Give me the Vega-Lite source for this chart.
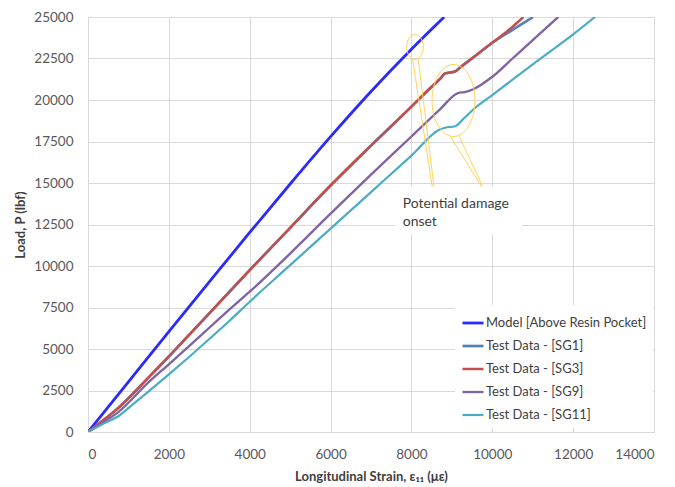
{
  "$schema": "https://vega.github.io/schema/vega-lite/v6.json",
  "width": 566,
  "height": 415,
  "autosize": {"type": "none"},
  "padding": {"left": 88, "top": 17, "right": 21, "bottom": 55},
  "background": "white",
  "config": {
    "font": "Lato",
    "view": {"stroke": "#d9d9d9", "strokeWidth": 1},
    "axis": {
      "domain": false, "ticks": false, "grid": true,
      "gridColor": "#d9d9d9", "gridWidth": 1,
      "labelColor": "#595959", "labelFont": "Lato", "labelFontSize": 13.5,
      "titleColor": "#404040", "titleFont": "Lato", "titleFontSize": 13, "titleFontWeight": "bold"
    }
  },
  "datasets": {
    "box": [{"strain": 7593, "strain2": 10735, "load": 11898, "load2": 14789}],
    "note": [{"strain": 7784, "load": 13464, "label": "Potential damage\nonset"}],
    "call1": [{"strain": 8212, "load": 19367}],
    "call2": [{"strain": 9127, "load": 18464}],
    "curves": [
      {"series": "Model [Above Resin Pocket]", "strain": 0, "load": 0},
      {"series": "Model [Above Resin Pocket]", "strain": 1000, "load": 3020},
      {"series": "Model [Above Resin Pocket]", "strain": 2000, "load": 6040},
      {"series": "Model [Above Resin Pocket]", "strain": 3000, "load": 9040},
      {"series": "Model [Above Resin Pocket]", "strain": 4000, "load": 12020},
      {"series": "Model [Above Resin Pocket]", "strain": 5000, "load": 14940},
      {"series": "Model [Above Resin Pocket]", "strain": 6000, "load": 17790},
      {"series": "Model [Above Resin Pocket]", "strain": 7000, "load": 20510},
      {"series": "Model [Above Resin Pocket]", "strain": 8000, "load": 23060},
      {"series": "Model [Above Resin Pocket]", "strain": 8810, "load": 25000},

      {"series": "Test Data - [SG1]", "strain": 0, "load": 0},
      {"series": "Test Data - [SG1]", "strain": 300, "load": 560},
      {"series": "Test Data - [SG1]", "strain": 750, "load": 1450},
      {"series": "Test Data - [SG1]", "strain": 1500, "load": 3290},
      {"series": "Test Data - [SG1]", "strain": 2000, "load": 4550},
      {"series": "Test Data - [SG1]", "strain": 2500, "load": 5850},
      {"series": "Test Data - [SG1]", "strain": 3000, "load": 7150},
      {"series": "Test Data - [SG1]", "strain": 3500, "load": 8450},
      {"series": "Test Data - [SG1]", "strain": 4000, "load": 9750},
      {"series": "Test Data - [SG1]", "strain": 5000, "load": 12300},
      {"series": "Test Data - [SG1]", "strain": 6000, "load": 14850},
      {"series": "Test Data - [SG1]", "strain": 7000, "load": 17250},
      {"series": "Test Data - [SG1]", "strain": 8000, "load": 19600},
      {"series": "Test Data - [SG1]", "strain": 8500, "load": 20800},
      {"series": "Test Data - [SG1]", "strain": 8720, "load": 21300},
      {"series": "Test Data - [SG1]", "strain": 8830, "load": 21600},
      {"series": "Test Data - [SG1]", "strain": 9080, "load": 21720},
      {"series": "Test Data - [SG1]", "strain": 9200, "load": 21950},
      {"series": "Test Data - [SG1]", "strain": 9600, "load": 22700},
      {"series": "Test Data - [SG1]", "strain": 10000, "load": 23450},
      {"series": "Test Data - [SG1]", "strain": 10500, "load": 24220},
      {"series": "Test Data - [SG1]", "strain": 11010, "load": 25000},

      {"series": "Test Data - [SG3]", "strain": 0, "load": 0},
      {"series": "Test Data - [SG3]", "strain": 300, "load": 560},
      {"series": "Test Data - [SG3]", "strain": 750, "load": 1450},
      {"series": "Test Data - [SG3]", "strain": 1500, "load": 3290},
      {"series": "Test Data - [SG3]", "strain": 2000, "load": 4550},
      {"series": "Test Data - [SG3]", "strain": 2500, "load": 5850},
      {"series": "Test Data - [SG3]", "strain": 3000, "load": 7150},
      {"series": "Test Data - [SG3]", "strain": 3500, "load": 8450},
      {"series": "Test Data - [SG3]", "strain": 4000, "load": 9750},
      {"series": "Test Data - [SG3]", "strain": 5000, "load": 12300},
      {"series": "Test Data - [SG3]", "strain": 6000, "load": 14850},
      {"series": "Test Data - [SG3]", "strain": 7000, "load": 17250},
      {"series": "Test Data - [SG3]", "strain": 8000, "load": 19600},
      {"series": "Test Data - [SG3]", "strain": 8500, "load": 20800},
      {"series": "Test Data - [SG3]", "strain": 8720, "load": 21300},
      {"series": "Test Data - [SG3]", "strain": 8830, "load": 21600},
      {"series": "Test Data - [SG3]", "strain": 9080, "load": 21720},
      {"series": "Test Data - [SG3]", "strain": 9200, "load": 21950},
      {"series": "Test Data - [SG3]", "strain": 9600, "load": 22700},
      {"series": "Test Data - [SG3]", "strain": 10000, "load": 23450},
      {"series": "Test Data - [SG3]", "strain": 10400, "load": 24200},
      {"series": "Test Data - [SG3]", "strain": 10770, "load": 25000},

      {"series": "Test Data - [SG9]", "strain": 0, "load": 0},
      {"series": "Test Data - [SG9]", "strain": 300, "load": 470},
      {"series": "Test Data - [SG9]", "strain": 750, "load": 1200},
      {"series": "Test Data - [SG9]", "strain": 1500, "load": 3000},
      {"series": "Test Data - [SG9]", "strain": 2000, "load": 4080},
      {"series": "Test Data - [SG9]", "strain": 2500, "load": 5180},
      {"series": "Test Data - [SG9]", "strain": 3000, "load": 6280},
      {"series": "Test Data - [SG9]", "strain": 3500, "load": 7380},
      {"series": "Test Data - [SG9]", "strain": 4000, "load": 8450},
      {"series": "Test Data - [SG9]", "strain": 5000, "load": 10750},
      {"series": "Test Data - [SG9]", "strain": 6000, "load": 13150},
      {"series": "Test Data - [SG9]", "strain": 7000, "load": 15500},
      {"series": "Test Data - [SG9]", "strain": 8000, "load": 17800},
      {"series": "Test Data - [SG9]", "strain": 8700, "load": 19420},
      {"series": "Test Data - [SG9]", "strain": 9150, "load": 20420},
      {"series": "Test Data - [SG9]", "strain": 9320, "load": 20480},
      {"series": "Test Data - [SG9]", "strain": 9530, "load": 20650},
      {"series": "Test Data - [SG9]", "strain": 10000, "load": 21400},
      {"series": "Test Data - [SG9]", "strain": 10500, "load": 22500},
      {"series": "Test Data - [SG9]", "strain": 11000, "load": 23600},
      {"series": "Test Data - [SG9]", "strain": 11630, "load": 25000},

      {"series": "Test Data - [SG11]", "strain": 0, "load": 0},
      {"series": "Test Data - [SG11]", "strain": 400, "load": 520},
      {"series": "Test Data - [SG11]", "strain": 750, "load": 950},
      {"series": "Test Data - [SG11]", "strain": 1100, "load": 1650},
      {"series": "Test Data - [SG11]", "strain": 1500, "load": 2450},
      {"series": "Test Data - [SG11]", "strain": 2000, "load": 3470},
      {"series": "Test Data - [SG11]", "strain": 2500, "load": 4520},
      {"series": "Test Data - [SG11]", "strain": 3000, "load": 5600},
      {"series": "Test Data - [SG11]", "strain": 3500, "load": 6700},
      {"series": "Test Data - [SG11]", "strain": 4000, "load": 7850},
      {"series": "Test Data - [SG11]", "strain": 5000, "load": 10050},
      {"series": "Test Data - [SG11]", "strain": 6000, "load": 12250},
      {"series": "Test Data - [SG11]", "strain": 7000, "load": 14450},
      {"series": "Test Data - [SG11]", "strain": 8000, "load": 16650},
      {"series": "Test Data - [SG11]", "strain": 8700, "load": 18220},
      {"series": "Test Data - [SG11]", "strain": 8830, "load": 18330},
      {"series": "Test Data - [SG11]", "strain": 9080, "load": 18420},
      {"series": "Test Data - [SG11]", "strain": 9300, "load": 18900},
      {"series": "Test Data - [SG11]", "strain": 9530, "load": 19430},
      {"series": "Test Data - [SG11]", "strain": 10000, "load": 20300},
      {"series": "Test Data - [SG11]", "strain": 11000, "load": 22150},
      {"series": "Test Data - [SG11]", "strain": 12000, "load": 23950},
      {"series": "Test Data - [SG11]", "strain": 12540, "load": 25000}
    ]
  },
  "layer": [
    {
      "data": {"name": "box"},
      "mark": {"type": "rect", "fill": "white", "stroke": null},
      "encoding": {
        "x": {
          "field": "strain", "type": "quantitative",
          "scale": {"domain": [0, 14000], "nice": false, "zero": true},
          "axis": {
            "values": [0, 2000, 4000, 6000, 8000, 10000, 12000, 14000],
            "format": "d", "labelPadding": 15,
            "title": "Longitudinal Strain, ε₁₁ (με)",
            "titleBaseline": "alphabetic", "titleY": 48
          }
        },
        "x2": {"field": "strain2"},
        "y": {
          "field": "load", "type": "quantitative",
          "scale": {"domain": [0, 25000], "nice": false, "zero": true},
          "axis": {
            "values": [0, 2500, 5000, 7500, 10000, 12500, 15000, 17500, 20000, 22500, 25000],
            "format": "d", "labelPadding": 15,
            "title": "Load, P (lbf)",
            "titleBaseline": "middle", "titleX": -68
          }
        },
        "y2": {"field": "load2"}
      }
    },
    {
      "data": {"name": "curves"},
      "mark": {"type": "line", "clip": true, "strokeJoin": "round", "interpolate": "monotone"},
      "encoding": {
        "x": {"field": "strain", "type": "quantitative"},
        "y": {"field": "load", "type": "quantitative"},
        "color": {
          "field": "series", "type": "nominal",
          "scale": {
            "domain": ["Model [Above Resin Pocket]", "Test Data - [SG1]", "Test Data - [SG3]", "Test Data - [SG9]", "Test Data - [SG11]"],
            "range": ["#2a2aff", "#4f81bd", "#c0504d", "#8064a2", "#4bacc6"]
          },
          "legend": {
            "title": null, "orient": "none", "direction": "vertical",
            "legendX": 367, "legendY": 288,
            "fillColor": "white", "padding": 6,
            "symbolType": "stroke", "symbolSize": 441, "symbolStrokeWidth": 2.5,
            "labelFont": "Lato", "labelFontSize": 13, "labelColor": "#404040", "labelLimit": 400,
            "rowPadding": 4, "labelOffset": 1
          }
        },
        "strokeWidth": {
          "field": "series", "type": "nominal",
          "scale": {
            "domain": ["Model [Above Resin Pocket]", "Test Data - [SG1]", "Test Data - [SG3]", "Test Data - [SG9]", "Test Data - [SG11]"],
            "range": [2.8, 2.2, 2.2, 2.2, 2.2]
          },
          "legend": null
        }
      }
    },
    {
      "data": {"name": "call1"},
      "mark": {
        "type": "point", "filled": false, "stroke": "#ffd35c", "strokeWidth": 1, "opacity": 1,
        "size": 23104,
        "shape": "M0.043,-0.836 C0.043,-0.7454 -0.0058,-0.672 -0.066,-0.672 C-0.1262,-0.672 -0.175,-0.7454 -0.175,-0.836 C-0.175,-0.9266 -0.1262,-1 -0.066,-1 C-0.0058,-1 0.043,-0.9266 0.043,-0.836 Z M-0.098,-0.679 L0.16,1 M-0.024,-0.685 L0.184,1"
      },
      "encoding": {
        "x": {"field": "strain", "type": "quantitative"},
        "y": {"field": "load", "type": "quantitative"}
      }
    },
    {
      "data": {"name": "call2"},
      "mark": {
        "type": "point", "filled": false, "stroke": "#ffd35c", "strokeWidth": 1, "opacity": 1,
        "size": 14884,
        "shape": "M0.295,-0.41 C0.295,-0.0841 0.1374,0.18 -0.057,0.18 C-0.2514,0.18 -0.409,-0.0841 -0.409,-0.41 C-0.409,-0.7359 -0.2514,-1 -0.057,-1 C0.1374,-1 0.295,-0.7359 0.295,-0.41 Z M-0.11,0.173 L0.40,1 M0.03,0.162 L0.42,1"
      },
      "encoding": {
        "x": {"field": "strain", "type": "quantitative"},
        "y": {"field": "load", "type": "quantitative"}
      }
    },
    {
      "data": {"name": "note"},
      "mark": {
        "type": "text", "align": "left", "baseline": "alphabetic",
        "lineBreak": "\n", "lineHeight": 17.5,
        "font": "Lato", "fontSize": 14, "color": "#404040"
      },
      "encoding": {
        "x": {"field": "strain", "type": "quantitative"},
        "y": {"field": "load", "type": "quantitative"},
        "text": {"field": "label"}
      }
    }
  ]
}
